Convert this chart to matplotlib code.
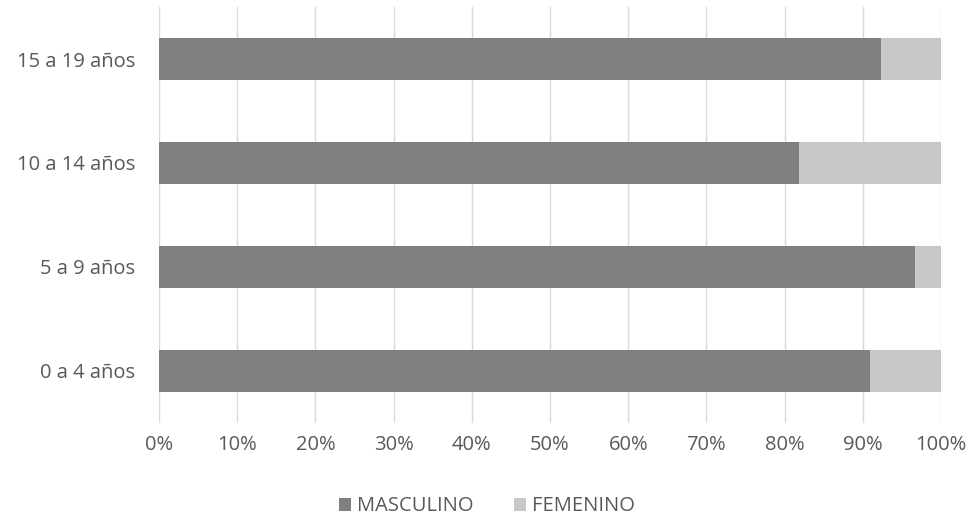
import matplotlib
matplotlib.use("Agg")
import matplotlib.pyplot as plt
from matplotlib.ticker import PercentFormatter

categories = ["0 a 4 años", "5 a 9 años", "10 a 14 años", "15 a 19 años"]
masculino = [90.9, 96.7, 81.8, 92.3]
femenino = [9.1, 3.3, 18.2, 7.7]
xticks = [0, 10, 20, 30, 40, 50, 60, 70, 80, 90, 100]

plt.rcParams['font.family'] = ['Open Sans', 'DejaVu Sans']
text_color = "#595959"

fig = plt.figure(figsize=(9.74, 5.18), dpi=100)
ax = fig.add_axes([159/974, (518-423)/518, (941-159)/974, 416/518])

y = list(range(len(categories)))
ax.barh(y, masculino, height=0.4, color="#808080", label="MASCULINO", zorder=3)
ax.barh(y, femenino, left=masculino, height=0.4, color="#c8c8c8", label="FEMENINO", zorder=3)

ax.set_xlim(0, 100)
ax.set_ylim(-0.5, 3.5)
ax.set_xticks(xticks)
ax.xaxis.set_major_formatter(PercentFormatter(decimals=0))
ax.set_yticks(y)
ax.set_yticklabels(categories)
ax.tick_params(axis='both', length=0, labelsize=14.5, colors=text_color)
ax.tick_params(axis='y', pad=17)
ax.tick_params(axis='x', pad=9)
ax.grid(axis='x', color="#d9d9d9", linewidth=1, zorder=0)
for s in ax.spines.values():
    s.set_visible(False)

fig.legend(loc="lower center", bbox_to_anchor=(0.5, -0.032), ncol=2, frameon=False,
           fontsize=14.5, labelcolor=text_color, handlelength=0.6, handleheight=0.6,
           columnspacing=2.0, handletextpad=0.3)

fig.savefig("out.png", dpi=100)
